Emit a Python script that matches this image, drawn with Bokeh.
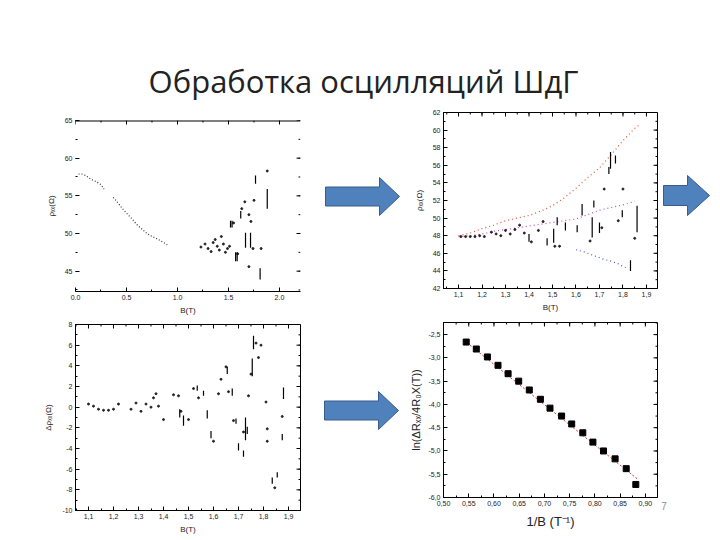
import math
from bokeh.plotting import figure
from bokeh.layouts import row, column
from bokeh.models import LinearAxis, FixedTicker, CustomJSTickFormatter, Range1d
from bokeh.core.properties import value
from bokeh.embed import file_html
from bokeh.resources import INLINE

NAN = float("nan")
TITLE = "Обработка осцилляций ШдГ"
PAGE_NO = "7"

# ---------------- data: top-left (rho_xx vs B) ----------------
tl_smooth_b = [0.03, 0.06, 0.10, 0.15, 0.20, 0.25, 0.28, NAN, 0.37, 0.42, 0.46, 0.50,
               0.55, 0.60, 0.65, 0.70, 0.75, 0.80, 0.85, 0.90]
tl_smooth_r = [57.9, 57.9, 57.7, 57.2, 56.9, 56.5, 55.9, NAN, 54.8, 54.0, 53.3, 52.7,
               52.0, 51.2, 50.6, 50.0, 49.6, 49.3, 48.9, 48.5]
tl_dot_b = [1.23, 1.27, 1.30, 1.33, 1.35, 1.37, 1.39, 1.41, 1.43, 1.45, 1.47, 1.49,
            1.51, 1.55, 1.59, 1.63, 1.66, 1.70, 1.72, 1.74, 1.70, 1.75, 1.82, 1.88]
tl_dot_r = [48.2, 48.6, 48.0, 47.6, 48.8, 49.2, 48.3, 47.8, 49.6, 48.6, 47.5, 48.0,
            48.3, 51.4, 47.3, 53.3, 54.2, 52.5, 51.6, 48.0, 45.6, 54.4, 48.0, 58.3]
tl_seg_b = [1.52, 1.535, 1.57, 1.585, 1.62, 1.667, 1.716, 1.765, 1.88, 1.81]
tl_seg_r0 = [51.7, 51.7, 47.5, 47.5, 53.0, 50.1, 50.1, 57.7, 55.9, 45.4]
tl_seg_r1 = [50.8, 50.8, 46.3, 46.3, 52.0, 48.1, 48.1, 56.6, 53.3, 43.9]

# ---------------- data: top-right (rho_xx vs B, envelopes) ----------------
tr_red_b = [1.10, 1.15, 1.20, 1.25, 1.30, 1.35, 1.40, 1.45, 1.50, 1.55, 1.60, 1.65,
            1.70, 1.75, 1.80, 1.85, 1.87]
tr_red_r = [48.0, 48.3, 48.8, 49.2, 49.7, 50.0, 50.3, 50.8, 51.4, 52.3, 53.4, 54.6,
            55.7, 57.2, 58.8, 60.2, 60.6]
tr_mag_b = [1.10, 1.15, 1.20, 1.25, 1.30, 1.35, 1.40, 1.45, 1.50, 1.55, 1.60, 1.65,
            1.70, 1.75, 1.80, 1.85]
tr_mag_r = [47.9, 48.0, 48.2, 48.5, 48.7, 48.9, 49.1, 49.3, 49.5, 49.7, 49.9, 50.4,
            50.9, 51.2, 51.5, 51.9]
tr_blue_b = [1.60, 1.63, 1.66, 1.69, 1.72, 1.75, 1.78, 1.80, 1.82]
tr_blue_r = [46.4, 46.2, 45.9, 45.6, 45.3, 45.1, 44.8, 44.5, 44.3]
tr_dot_b = [1.11, 1.13, 1.15, 1.17, 1.19, 1.21, 1.24, 1.26, 1.28, 1.30, 1.32, 1.34,
            1.36, 1.38, 1.41, 1.44, 1.46, 1.51, 1.53, 1.72, 1.80, 1.66, 1.71, 1.78, 1.85]
tr_dot_r = [47.9, 47.9, 47.9, 47.9, 48.0, 47.9, 48.4, 48.2, 48.0, 48.6, 48.2, 48.7,
            49.2, 48.3, 47.3, 48.6, 49.6, 46.8, 46.8, 53.3, 53.3, 47.4, 48.9, 49.7, 47.7]
tr_seg_b = [1.40, 1.477, 1.505, 1.52, 1.555, 1.605, 1.626, 1.669, 1.676, 1.74, 1.747,
            1.768, 1.797, 1.86, 1.832, 1.70]
tr_seg_r0 = [48.2, 47.7, 48.8, 50.1, 49.5, 49.2, 51.6, 50.1, 52.0, 55.8, 57.5,
             57.1, 50.9, 51.4, 45.2, 49.5]
tr_seg_r1 = [47.3, 46.9, 47.2, 49.2, 48.6, 48.4, 50.3, 47.8, 51.2, 55.0, 55.6,
             56.2, 50.1, 48.4, 44.0, 48.3]

# ---------------- data: bottom-left (delta rho_xx vs B) ----------------
bl_dot_b = [1.10, 1.12, 1.14, 1.16, 1.18, 1.20, 1.22, 1.27, 1.29, 1.31, 1.33, 1.35,
            1.36, 1.37, 1.38, 1.40, 1.44, 1.46, 1.47, 1.50, 1.52, 1.54, 1.60, 1.62,
            1.63, 1.65, 1.66, 1.68, 1.72, 1.74, 1.75, 1.77, 1.78, 1.79, 1.81, 1.815,
            1.815, 1.845, 1.875]
bl_dot_r = [0.3, 0.1, -0.2, -0.3, -0.3, -0.2, 0.3, -0.2, 0.4, -0.4, 0.3, 0.0,
            0.9, 1.3, 0.1, -1.2, 1.2, 1.1, -0.4, -1.2, 1.8, 0.9, -3.3, 1.3,
            2.7, 3.9, 1.5, -1.3, -2.4, 1.1, 3.2, 6.2, 4.8, 6.0, 0.5, -2.1,
            -3.3, -7.8, -0.9]
bl_seg_b = [1.465, 1.48, 1.535, 1.56, 1.575, 1.59, 1.655, 1.675, 1.69, 1.70, 1.72,
            1.728, 1.735, 1.755, 1.76, 1.835, 1.855, 1.88, 1.875]
bl_seg_r0 = [-0.2, -0.8, 2.1, 1.6, -0.3, -2.3, 3.9, 1.8, -1.1, -3.5, -4.2,
             -1.0, -1.9, 4.7, 6.9, -6.8, -6.3, 1.9, -2.6]
bl_seg_r1 = [-1.0, -1.8, 1.6, 1.1, -1.1, -3.0, 3.2, 1.1, -1.6, -4.2, -4.8,
             -3.2, -2.6, 3.0, 5.6, -7.4, -6.8, 0.8, -3.2]

# ---------------- data: bottom-right (Dingle plot) ----------------
br_inv_b = [0.545, 0.565, 0.587, 0.608, 0.628, 0.649, 0.670, 0.692, 0.711, 0.734,
            0.754, 0.776, 0.796, 0.817, 0.840, 0.862, 0.881]
br_ln = [-2.66, -2.81, -2.98, -3.16, -3.34, -3.50, -3.69, -3.89, -4.08, -4.25,
         -4.42, -4.61, -4.81, -5.00, -5.17, -5.38, -5.72]
br_fit_x = [0.540, 0.884]
br_fit_y = [-2.62, -5.60]

FONT = "Liberation Sans"


def fmt(decimals, comma):
    code = "return tick.toFixed(%d)" % decimals
    if comma:
        code += ".replace('.', ',')"
    return CustomJSTickFormatter(code=code + ";")


def style_axis(ax, line=True):
    ax.major_tick_in = 4
    ax.major_tick_out = 0
    ax.minor_tick_in = 2
    ax.minor_tick_out = 0
    ax.major_tick_line_color = "black"
    ax.minor_tick_line_color = "black"
    ax.axis_line_color = "black" if line else None
    ax.major_label_text_font = FONT
    ax.major_label_text_font_size = "7px"
    ax.major_label_text_color = "#222222"
    ax.major_label_standoff = 3
    ax.axis_label_text_font = FONT
    ax.axis_label_text_font_size = "8px"
    ax.axis_label_text_font_style = "normal"
    ax.axis_label_text_color = "#222222"


def make_plot(width, height, borders, xr, yr, xt, xm, yt, ym, xf, yf, xlabel, ylabel,
              vlines=True):
    l, r, t, b = borders
    p = figure(width=width, height=height, x_range=Range1d(*xr), y_range=Range1d(*yr),
               x_axis_type=None, y_axis_type=None, toolbar_location=None,
               output_backend="svg", min_border_left=l, min_border_right=r,
               min_border_top=t, min_border_bottom=b)
    p.title.visible = False
    p.background_fill_color = "white"
    p.border_fill_color = "white"
    xb = LinearAxis(ticker=FixedTicker(ticks=xt, minor_ticks=xm), formatter=xf,
                    axis_label=xlabel)
    style_axis(xb)
    xb.axis_label_standoff = 3
    p.add_layout(xb, "below")
    yl = LinearAxis(ticker=FixedTicker(ticks=yt, minor_ticks=ym), formatter=yf,
                    axis_label=ylabel)
    style_axis(yl, line=vlines)
    yl.axis_label_standoff = 6
    p.add_layout(yl, "left")
    # mirrored (label-free) ticks on the top and right frame edges
    fw = width - l - r
    fh = height - t - b
    dx = (xr[1] - xr[0]) / fw
    dy = (yr[1] - yr[0]) / fh
    top_x = list(xt) + list(xm)
    top_len = [4 * dy] * len(xt) + [2 * dy] * len(xm)
    p.segment(top_x, [yr[1]] * len(top_x), top_x,
              [yr[1] - d for d in top_len], line_color="black", line_width=1)
    rt_y = list(yt) + list(ym)
    rt_len = [4 * dx] * len(yt) + [2 * dx] * len(ym)
    p.segment([xr[1]] * len(rt_y), rt_y, [xr[1] - d for d in rt_len], rt_y,
              line_color="black", line_width=1)
    if vlines:
        p.outline_line_color = "black"
    else:
        p.outline_line_color = None
        p.segment([xr[0]], [yr[1]], [xr[1]], [yr[1]], line_color="black", line_width=2)
    return p


def blank(width, height):
    p = figure(width=width, height=height, x_range=Range1d(0, width),
               y_range=Range1d(height, 0), x_axis_type=None, y_axis_type=None,
               toolbar_location=None, output_backend="svg", min_border=0)
    p.title.visible = False
    p.outline_line_color = None
    return p


def arrow(p, x0, xh, x1, yc, bh, hh):
    xs = [x0, xh, xh, x1, xh, xh, x0]
    ys = [yc - bh, yc - bh, yc - hh, yc, yc + hh, yc + bh, yc + bh]
    p.patch(xs, ys, fill_color="#4F81BD", line_color="#385D8A", line_width=1)


def rng(a, b, s):
    n = int(round((b - a) / s))
    return [round(a + i * s, 4) for i in range(n + 1)]


# header (page y 0..106)
head = blank(720, 106)
head.text(x=[363], y=[80], text=[TITLE], text_font=value("Open Sans"),
          text_font_size="31px", text_align="center", text_baseline="middle",
          text_color="#222222")

# top-left (page x 0..318, y 106..319)
tl = make_plot(318, 213, (75, 18, 14, 28), (0, 2.206), (42.3, 65),
               rng(0, 2.0, 0.5), rng(0, 2.25, 0.25), rng(45, 65, 5), rng(42.5, 65, 2.5),
               fmt(1, False), fmt(0, False), "B(T)", "ρₓₓ(Ω)", vlines=False)
tl.line(tl_smooth_b, tl_smooth_r, line_color="#333333", line_width=1.2, line_dash="1 2")
tl.scatter(tl_dot_b, tl_dot_r, marker="circle", size=2, color="#222222")
tl.segment(tl_seg_b, tl_seg_r0, tl_seg_b, tl_seg_r1, line_color="black", line_width=1.2)

# bottom-left (page x 0..318, y 319..540)
bl = make_plot(318, 221, (75, 18, 5, 30), (1.048, 1.948), (-10, 8),
               rng(1.1, 1.9, 0.1), rng(1.05, 1.9, 0.05), rng(-10, 8, 2), rng(-10, 8, 1),
               fmt(1, True), fmt(0, False), "B(T)", "Δρₓₓ(Ω)")
bl.scatter(bl_dot_b, bl_dot_r, marker="circle", size=2, color="#222222")
bl.segment(bl_seg_b, bl_seg_r0, bl_seg_b, bl_seg_r1, line_color="black", line_width=1.2)

# arrows between the columns (page x 318..405)
a1 = blank(87, 213)
arrow(a1, 7, 61, 81, 90, 9.5, 19)
a3 = blank(87, 221)
arrow(a3, 6, 60, 80, 91, 9.5, 19)

# top-right (page x 405..660)
tr = make_plot(255, 213, (38, 3, 6, 31), (1.036, 1.947), (42, 62),
               rng(1.1, 1.9, 0.1), rng(1.05, 1.9, 0.05), rng(42, 62, 2), rng(42, 62, 1),
               fmt(1, True), fmt(0, False), "B(T)", "ρₓₓ(Ω)")
tr.line(tr_red_b, tr_red_r, line_color="#e0503c", line_width=1.2, line_dash="1 3")
tr.line(tr_mag_b, tr_mag_r, line_color="#cc44cc", line_width=1.2, line_dash="1 3")
tr.line(tr_blue_b, tr_blue_r, line_color="#5050d0", line_width=1.2, line_dash="1 3")
tr.scatter(tr_dot_b, tr_dot_r, marker="circle", size=2, color="#222222")
tr.segment(tr_seg_b, tr_seg_r0, tr_seg_b, tr_seg_r1, line_color="black", line_width=1.2)

# bottom-right (page x 405..660)
br = make_plot(255, 221, (38, 3, 3, 43), (0.5, 0.924), (-6.0, -2.24),
               rng(0.5, 0.9, 0.05), rng(0.5, 0.925, 0.025), rng(-6.0, -2.5, 0.5),
               rng(-6.0, -2.25, 0.25), fmt(2, True), fmt(1, True),
               "1/B (T⁻¹)", "ln(ΔRₓₓ/4R₀X(T))")
br.below[0].axis_label_text_font_size = "13px"
br.below[0].axis_label_standoff = 5
br.left[0].axis_label_text_font_size = "11px"
br.left[0].axis_label_standoff = 3
br.line(br_fit_x, br_fit_y, line_color="#dd3333", line_width=1, line_dash="2 2")
br.scatter(br_inv_b, br_ln, marker="square", size=6, color="black")

# right edge column (page x 660..720)
a2 = blank(60, 213)
arrow(a2, 3, 27, 49, 89, 10, 20)
pn = blank(60, 221)
pn.text(x=[3.5], y=[186], text=[PAGE_NO], text_font=value("Liberation Sans"),
        text_font_size="10px", text_align="center", text_baseline="middle",
        text_color="#8c8c8c")

layout = column(head, row(column(tl, bl), column(a1, a3), column(tr, br), column(a2, pn)))
open("out.html", "w").write(file_html(layout, INLINE))
